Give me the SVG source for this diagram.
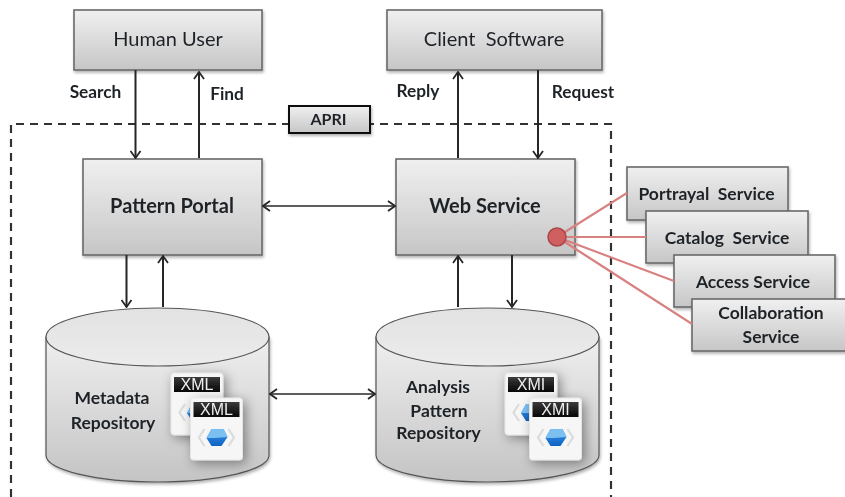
<svg xmlns="http://www.w3.org/2000/svg" xmlns:xlink="http://www.w3.org/1999/xlink" width="845" height="497" viewBox="0 0 845 497">
<style>
text{font-family:Lato,"Open Sans","Liberation Sans",sans-serif;fill:#1f2328;text-anchor:middle}
.box{fill:url(#g);stroke:#6a6a6a;stroke-width:1.6;filter:url(#sh)}
.n{font-size:20px}
.b{font-size:20px;font-weight:700}
.l{font-size:17.300px;font-weight:700}
.s{font-size:17.500px;font-weight:700}
.a{fill:none;stroke:#262626;stroke-width:2;marker-end:url(#ar)}
.ab{fill:none;stroke:#262626;stroke-width:1.700;marker-end:url(#ar);marker-start:url(#as)}
.r{stroke:#d98080;stroke-width:2.200;fill:none}
.cyl{fill:url(#c);stroke:#555;stroke-width:1.200;filter:url(#sh)}
.top{fill:url(#t);stroke:#555;stroke-width:1.200}
.x{font-family:"Liberation Sans",sans-serif;font-size:16px;fill:#eee}
</style>
<defs>
<linearGradient id="g" x1="0" y1="0" x2="0" y2="1"><stop offset="0" stop-color="#f0f0f0"/><stop offset="1" stop-color="#c6c6c6"/></linearGradient>
<linearGradient id="c" x1="0" y1="0" x2="0" y2="1"><stop offset="0" stop-color="#efefef"/><stop offset="1" stop-color="#c4c4c4"/></linearGradient>
<linearGradient id="t" x1="0" y1="0" x2="0" y2="1"><stop offset="0" stop-color="#e2e2e2"/><stop offset="1" stop-color="#ececec"/></linearGradient>
<linearGradient id="h" x1="0" y1="0" x2="0" y2="1"><stop offset="0" stop-color="#3c3c3c"/><stop offset="1" stop-color="#050505"/></linearGradient>
<linearGradient id="bl" x1="0" y1="0" x2="0" y2="1"><stop offset="0" stop-color="#3f97e6"/><stop offset="1" stop-color="#0f62c4"/></linearGradient>
<filter id="soft" filterUnits="userSpaceOnUse" x="0" y="0" width="845" height="497"><feGaussianBlur stdDeviation="0.450"/></filter>
<filter id="sh" x="-10%" y="-10%" width="125%" height="125%"><feDropShadow dx="1" dy="2" stdDeviation="1.500" flood-color="#000" flood-opacity=".3"/></filter>
<filter id="ds" x="-40%" y="-40%" width="180%" height="180%"><feDropShadow dx="3" dy="3" stdDeviation="6" flood-color="#000" flood-opacity=".4"/></filter>
<marker id="ar" viewBox="0 0 10 12" refX="9" refY="6" markerWidth="10" markerHeight="12" markerUnits="userSpaceOnUse" orient="auto"><path d="M2 1 9 6 2 11" fill="none" stroke="#262626" stroke-width="1.800"/></marker>
<marker id="as" viewBox="0 0 10 12" refX="1" refY="6" markerWidth="10" markerHeight="12" markerUnits="userSpaceOnUse" orient="auto"><path d="M8 1 1 6 8 11" fill="none" stroke="#262626" stroke-width="1.800"/></marker>
<g id="doc">
<rect x="0" y="0" width="52" height="62" rx="3" fill="#f6f6f6" stroke="#e4e4e4" filter="url(#ds)"/>
<rect x="3" y="4" width="46" height="15" fill="url(#h)"/>
<path d="M14 31 8.500 39.500 14 48M38 31 43.500 39.500 38 48" fill="none" stroke="#dcdcdc" stroke-width="2.200"/>
<path d="M21 31 33 31 37 39 31 48 21 48 16 40Z" fill="url(#bl)"/>
<path d="M21 31 33 31 37 39 24 40 16 40Z" fill="#7cc0f2"/>
</g>
</defs>
<rect width="845" height="497" fill="#fff"/>
<g filter="url(#soft)">
<path d="M11 497V124H611V497" fill="none" stroke="#333" stroke-width="2.200" stroke-dasharray="8 6"/>
<g id="human-user"><rect class="box" x="74" y="10" width="188" height="60"/><text class="n" x="168" y="46">Human User</text></g>
<g id="client-software"><rect class="box" x="387" y="10" width="215" height="60"/><text class="n" x="494" y="46" xml:space="preserve">Client  Software</text></g>
<g id="label-search"><text class="l" x="95.500" y="98">Search</text></g>
<g id="label-find"><text class="l" x="227" y="100">Find</text></g>
<g id="label-reply"><text class="l" x="418" y="97">Reply</text></g>
<g id="label-request"><text class="l" x="583" y="98">Request</text></g>
<g id="apri"><rect x="289" y="106" width="81" height="27" fill="url(#g)" stroke="#111" stroke-width="2" filter="url(#sh)"/><text x="328.500" y="125" style="font-size:16px;font-weight:700">APRI</text></g>
<g id="pattern-portal"><rect class="box" x="83" y="159" width="179" height="96"/><text class="b" x="172" y="213">Pattern Portal</text></g>
<g id="web-service"><rect class="box" x="396" y="159" width="179" height="96"/><text class="b" x="485" y="213">Web Service</text></g>
<g id="portrayal-service"><rect class="box" x="627" y="167" width="161" height="53"/><text class="s" x="706.500" y="200" xml:space="preserve">Portrayal  Service</text></g>
<g id="catalog-service"><rect class="box" x="646" y="211" width="162" height="52"/><text class="s" x="727" y="244" xml:space="preserve">Catalog  Service</text></g>
<g id="access-service"><rect class="box" x="674" y="255" width="161" height="52"/><text class="s" x="753" y="288">Access Service</text></g>
<g id="collaboration-service"><rect class="box" x="692" y="299" width="160" height="52"/><text class="s" x="771" y="319">Collaboration</text><text class="s" x="771" y="343">Service</text></g>
<g id="metadata-repository">
<path class="cyl" d="M46 337V455C46 470 96 482 157.500 482S269 470 269 455V337Z"/>
<ellipse class="top" cx="157.500" cy="337" rx="111.500" ry="29"/>
<text class="s" x="112" y="404">Metadata</text><text class="s" x="113" y="429">Repository</text>
<use xlink:href="#doc" x="171" y="373"/><text class="x" x="197" y="390">XML</text>
<use xlink:href="#doc" x="190.500" y="398"/><text class="x" x="216.500" y="415">XML</text>
</g>
<g id="analysis-repository">
<path class="cyl" d="M376 337V455C376 470 426 482 487.500 482S599 470 599 455V337Z"/>
<ellipse class="top" cx="487.500" cy="337" rx="111.500" ry="29"/>
<text class="s" x="438" y="393">Analysis</text><text class="s" x="439" y="417">Pattern</text><text class="s" x="438.500" y="439">Repository</text>
<use xlink:href="#doc" x="505" y="373"/><text class="x" x="531" y="390">XMI</text>
<use xlink:href="#doc" x="529.500" y="398"/><text class="x" x="555.500" y="415">XMI</text>
</g>
<g id="connectors">
<path class="a" d="M135.500 70V158"/>
<path class="a" d="M199 158V72"/>
<path class="a" d="M458 158V72"/>
<path class="a" d="M538 70V158"/>
<path class="ab" d="M263 206H395"/>
<path class="a" d="M126.500 255V307"/>
<path class="a" d="M163 307V256"/>
<path class="a" d="M458 307V256"/>
<path class="a" d="M512 255V307"/>
<path class="ab" d="M270 394H375"/>
<path class="r" d="M557 237 627 193M557 237H646M557 237 674 281M557 237 692 324"/>
</g>
<g id="hub"><circle cx="557" cy="237" r="9" fill="#d06060" stroke="#a84848" stroke-width="1.500"/></g>
</g>
</svg>
